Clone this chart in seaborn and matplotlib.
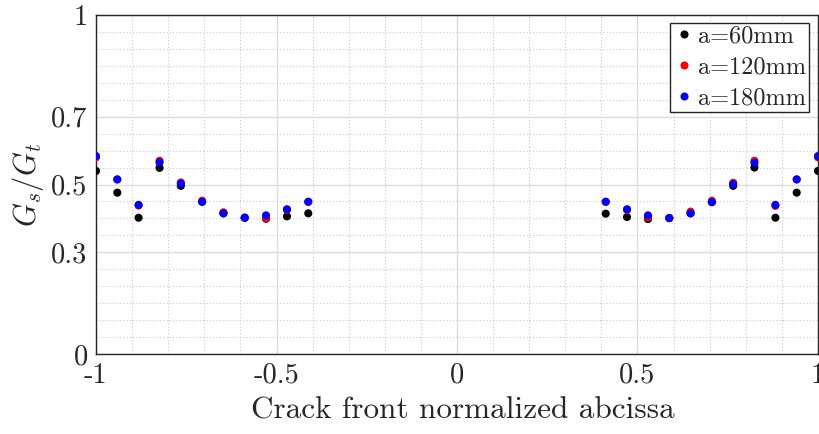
import numpy as np
import pandas as pd
import matplotlib
matplotlib.use("Agg")
import matplotlib.pyplot as plt
import seaborn as sns
from matplotlib.ticker import MultipleLocator

# abscissa positions along the crack front (two clusters, step 1/17)
x_left = [-1.0, -0.941, -0.882, -0.824, -0.765, -0.706, -0.647, -0.588, -0.529, -0.471, -0.412]
x_right = [0.412, 0.471, 0.529, 0.588, 0.647, 0.706, 0.765, 0.824, 0.882, 0.941, 1.0]

# Gs/Gt
g_60 = [0.540, 0.476, 0.402, 0.549, 0.496, 0.449, 0.415, 0.402, 0.399, 0.406, 0.415,
        0.414, 0.404, 0.398, 0.401, 0.415, 0.448, 0.496, 0.550, 0.402, 0.476, 0.540]
g_120 = [0.580, 0.515, 0.438, 0.570, 0.506, 0.452, 0.418, 0.402, 0.401, 0.425, 0.449,
         0.449, 0.425, 0.403, 0.401, 0.420, 0.452, 0.505, 0.570, 0.437, 0.515, 0.580]
g_180 = [0.584, 0.515, 0.440, 0.565, 0.503, 0.449, 0.415, 0.402, 0.409, 0.427, 0.449,
         0.449, 0.427, 0.409, 0.401, 0.415, 0.448, 0.501, 0.564, 0.440, 0.515, 0.584]

labels = ["a=60mm", "a=120mm", "a=180mm"]
colors = ["#000000", "#ff0000", "#0000ff"]

xs = x_left + x_right
df = pd.concat([
    pd.DataFrame({"x": xs, "g": g, "case": lab})
    for g, lab in zip([g_60, g_120, g_180], labels)
], ignore_index=True)

sns.set_style("white")
plt.rcParams["font.family"] = ["cmr10", "DejaVu Serif"]
plt.rcParams["mathtext.fontset"] = "cm"
plt.rcParams["axes.unicode_minus"] = False
plt.rcParams["axes.formatter.use_mathtext"] = True

fig = plt.figure(figsize=(8.2, 4.34), dpi=100)
ax = fig.add_axes([96 / 820, 1 - 354 / 434, 722 / 820, 339 / 434])

sns.scatterplot(data=df, x="x", y="g", hue="case", palette=colors,
                hue_order=labels, s=34, linewidth=0, ax=ax, zorder=3)

ax.set_xlim(-1, 1)
ax.set_ylim(0, 1)
ax.set_xticks([-1, -0.5, 0, 0.5, 1])
ax.set_xticklabels(["-1", "-0.5", "0", "0.5", "1"])
ax.set_yticks([0, 0.3, 0.5, 0.7, 1])
ax.set_yticklabels(["0", "0.3", "0.5", "0.7", "1"])
ax.xaxis.set_minor_locator(MultipleLocator(0.1))
ax.yaxis.set_minor_locator(MultipleLocator(0.05))

ax.grid(which="major", color="#dcdcdc", linewidth=1.0, linestyle="-")
ax.grid(which="minor", color="#c8c8c8", linewidth=0.8, linestyle=(0, (1, 2)))
ax.set_axisbelow(True)

ax.tick_params(which="major", direction="in", length=6, width=1, labelsize=20.5,
               color="#262626", labelcolor="#262626", pad=6)
ax.tick_params(which="minor", length=0)
for sp in ax.spines.values():
    sp.set_color("#262626")
    sp.set_linewidth(1.0)

ax.set_xlabel("Crack front normalized abcissa", fontsize=22.5, color="#262626")
ax.xaxis.set_label_coords(0.508, -0.125)
ax.xaxis.label.set_va("top")
ax.set_ylabel(r"$G_s/G_t$", fontsize=22, color="#262626", labelpad=4)

leg = ax.legend(loc="upper right", fontsize=17.5, frameon=True, fancybox=False,
                edgecolor="#262626", framealpha=1, handletextpad=0.1,
                handlelength=0.95, borderpad=0.1, labelspacing=0.37,
                borderaxespad=0.0, markerscale=1.0,
                bbox_to_anchor=(713 / 722, 1 - 8 / 339))
leg.get_frame().set_linewidth(1.0)

fig.savefig("out.png", dpi=100)
